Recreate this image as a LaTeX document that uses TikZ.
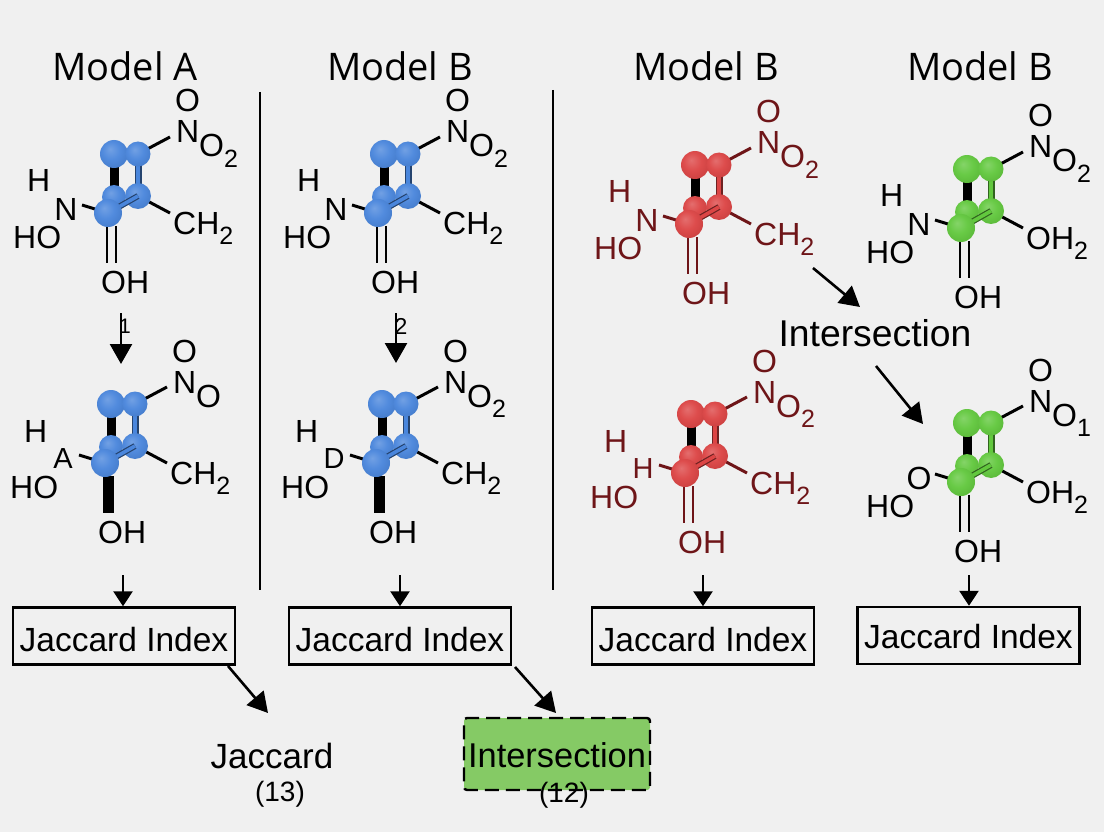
\documentclass[tikz,border=0pt]{standalone}
\usepackage{fontspec}
\setmainfont{Liberation Sans}
\newfontfamily\titlefont{Open Sans}
\usetikzlibrary{arrows.meta,shadings}
\definecolor{bgc}{HTML}{F0F0F0}
\definecolor{bluec}{HTML}{4A86DC}
\definecolor{redc}{HTML}{DC4545}
\definecolor{greenc}{HTML}{62C83E}
\definecolor{dred}{HTML}{6E1518}
\definecolor{boxgreen}{HTML}{85CA65}
\colorlet{atomc}{bluec}
\pgfdeclareradialshading[atomc]{atomball}{\pgfqpoint{-7bp}{9bp}}{%
  color(0bp)=(atomc!78!white); color(16bp)=(atomc!96!white); color(32bp)=(atomc!92!black); color(44bp)=(atomc!80!black); color(52bp)=(atomc!62!black)}
\newcommand{\subn}[1]{\raisebox{-0.32em}{\fontsize{25}{25}\selectfont #1}}
\newif\ifmolH
\molHtrue
\tikzset{
  x=1pt,y=-1pt,
  title/.style={font=\titlefont\fontsize{38}{38}\selectfont,text=black,inner sep=0pt},
  moltext/.style={font=\fontsize{32}{32}\selectfont,anchor=base west,inner sep=0pt},
  atom/.style={circle,inner sep=0pt,minimum size=#1,shading=atomball},
  bond/.style={line width=3pt},
  thickbond/.style={line width=9pt,black},
  indexbox/.style={draw=black,line width=2.4pt,fill=none,minimum width=222pt,minimum height=57pt,inner sep=0pt},
  indextext/.style={inner sep=0pt,font=\fontsize{33.5}{33.5}\selectfont},
  flow/.style={line width=2.6pt,-{Triangle[length=20pt,width=22pt]},black},
  flowsmall/.style={line width=2.6pt,-{Triangle[length=15pt,width=19pt]},black},
  divider/.style={line width=2pt,black},
  garble/.style={font=\fontsize{21}{21}\selectfont,inner sep=0pt},
}
% prefix, dx, dy, ball colour, text colour, side label, upper-right label, right label, bottom style
\newcommand{\molecule}[9]{%
\begin{scope}[shift={(#2,#3)}]
  \colorlet{atomc}{#4}
  \coordinate (#1-tl) at (114,154);
  \coordinate (#1-tr) at (138,154);
  \coordinate (#1-br) at (138,196);
  \coordinate (#1-bk) at (114,197);
  \coordinate (#1-fr) at (108,213);
  \coordinate (#1-eno) at (170,137);
  \coordinate (#1-ech) at (170,213);
  \coordinate (#1-en) at (82,205);
  \node[moltext,text=#5] (#1-lo) at (175,112) {O};
  \node[moltext,text=#5] (#1-ln) at (176,143) {N};
  \node[moltext,text=#5] (#1-lr) at (199,157) {#7};
  \ifmolH\node[moltext,text=#5] (#1-lh) at (27,192) {H};\fi
  \node[inner sep=0pt,text=#5] (#1-ls) at (66,209) {#6};
  \node[moltext,text=#5] (#1-lho) at (13,248) {HO};
  \node[moltext,text=#5] (#1-lc) at (173,234) {#8};
  \node[moltext,text=#5] (#1-loh) at (101,293) {OH};
  \draw[thickbond] (#1-tl) -- (#1-bk);
  \draw[line width=7pt,black!50!#4] (#1-tr) -- (#1-br);
  \draw[line width=4.4pt,#4] (#1-tr) -- (#1-br);
  \draw[bond,#5] (#1-tr) -- (#1-eno);
  \draw[bond,#5] (#1-br) -- (#1-ech);
  \draw[bond,#5] (#1-fr) -- (#1-en);
  #9
  \node[atom=24pt] (#1-abk) at (#1-bk) {};
  \node[atom=28pt] (#1-atl) at (#1-tl) {};
  \node[atom=25pt] (#1-atr) at (#1-tr) {};
  \node[atom=26pt] (#1-abr) at (#1-br) {};
  \draw[line width=6pt,black!50!#4] (#1-fr) -- (#1-br);
  \draw[line width=3.6pt,#4] (#1-fr) -- (#1-br);
  \node[atom=28pt] (#1-afr) at (#1-fr) {};
\end{scope}}
\newcommand{\dbl}[1]{%
  \coordinate (db-a) at (107,226); \coordinate (db-b) at (107,263);
  \coordinate (db-c) at (116,226); \coordinate (db-d) at (116,263);
  \draw[line width=2.8pt,#1] (db-a) -- (db-b);
  \draw[line width=2.8pt,#1] (db-c) -- (db-d);}
\newcommand{\thk}{%
  \coordinate (tb-a) at (111,226); \coordinate (tb-b) at (111,263);
  \draw[line width=11pt,black] (tb-a) -- (tb-b);}
\newcommand{\sideN}{\fontsize{32}{32}\selectfont N}
\newcommand{\ntwo}{O\subn{2}}
\newcommand{\ctwo}{CH\subn{2}}
\newcommand{\otwo}{OH\subn{2}}
\begin{document}
\begin{tikzpicture}
\path[fill=bgc] (0,0) rectangle (1104,832);
\useasboundingbox (0,0) rectangle (1104,832);

\node[title] (t1) at (125,66) {Model A};
\node[title] (t2) at (400,66) {Model B};
\node[title] (t3) at (706,66) {Model B};
\node[title] (t4) at (980,66) {Model B};

\coordinate (d1a) at (260,92); \coordinate (d1b) at (260,590);
\coordinate (d2a) at (553,90); \coordinate (d2b) at (553,590);
\draw[divider] (d1a) -- (d1b);
\draw[divider] (d2a) -- (d2b);

\molecule{a}{0}{0}{bluec}{black}{\sideN}{\ntwo}{\ctwo}{\dbl{black}}
\molecule{b}{-3}{250}{bluec}{black}{\fontsize{29}{29}\selectfont A}{O}{\ctwo}{\thk}
\molecule{c}{270}{0}{bluec}{black}{\sideN}{\ntwo}{\ctwo}{\dbl{black}}
\molecule{d}{268}{250}{bluec}{black}{\fontsize{29}{29}\selectfont D}{\ntwo}{\ctwo}{\thk}
\molecule{e}{581}{11}{redc}{dred}{\sideN}{\ntwo}{\ctwo}{\dbl{dred}}
\molecule{f}{577}{260}{redc}{dred}{\fontsize{29}{29}\selectfont H}{\ntwo}{\ctwo}{\dbl{dred}}
\molecule{g}{853}{15}{greenc}{black}{\sideN}{\ntwo}{\otwo}{\dbl{black}}
\molHfalse
\molecule{h}{853}{269}{greenc}{black}{\fontsize{32}{32}\selectfont O}{O\subn{1}}{\otwo}{\dbl{black}}

\coordinate (a1s) at (121,313); \coordinate (a1e) at (121,364);
\coordinate (a2s) at (396,313); \coordinate (a2e) at (396,363);
\draw[flow] (a1s) -- (a1e);
\draw[flow] (a2s) -- (a2e);
\node[garble] (n1) at (125,326) {1};
\node[garble,font=\fontsize{23}{23}\selectfont] (n2) at (401,326) {2};

\node[indexbox] (j1) at (124,636) {};
\node[indextext] (jt1) at (124,640) {Jaccard Index};
\node[indexbox] (j2) at (400,636) {};
\node[indextext] (jt2) at (400,640) {Jaccard Index};
\node[indexbox] (j3) at (703,636) {};
\node[indextext] (jt3) at (703,640) {Jaccard Index};
\node[indexbox] (j4) at (968.5,635.5) {};
\node[indextext] (jt4) at (968.5,637) {Jaccard Index};

\coordinate (s1) at (123,575); \coordinate (s2) at (400,575);
\coordinate (s3) at (703,575); \coordinate (s4) at (969,575);
\draw[flowsmall] (s1) -- (j1.north -| s1);
\draw[flowsmall] (s2) -- (j2.north -| s2);
\draw[flowsmall] (s3) -- (j3.north -| s3);
\draw[flowsmall] (s4) -- (j4.north -| s4);

\node[font=\fontsize{35}{35}\selectfont,inner sep=0pt] (jac) at (272,756) {Jaccard};
\node[font=\fontsize{28}{28}\selectfont,inner sep=0pt] (jacn) at (280,794) {(13)};
\coordinate (e1s) at (228,666); \coordinate (e1e) at (268,713);
\draw[flow] (e1s) -- (e1e);

\node[draw=black,dash pattern=on 14pt off 7pt,line width=2.4pt,fill=boxgreen,rounded corners=3pt,minimum width=186pt,minimum height=72pt,inner sep=0pt] (gb) at (557,754) {};
\node[font=\fontsize{34.4}{34.4}\selectfont,inner sep=0pt] (gbt) at (557,755) {Intersection};
\node[font=\fontsize{28}{28}\selectfont,inner sep=0pt] (gbn) at (564,795) {(12)};
\coordinate (e2s) at (515,667); \coordinate (e2e) at (556,713);
\draw[flow] (e2s) -- (e2e);

\node[font=\fontsize{37.3}{37.3}\selectfont,inner sep=0pt] (mid) at (875,333) {Intersection};
\coordinate (m1s) at (813,268); \coordinate (m1e) at (860,307);
\coordinate (m2s) at (876,366); \coordinate (m2e) at (923,424);
\draw[flow] (m1s) -- (m1e);
\draw[flow] (m2s) -- (m2e);
\end{tikzpicture}
\end{document}
